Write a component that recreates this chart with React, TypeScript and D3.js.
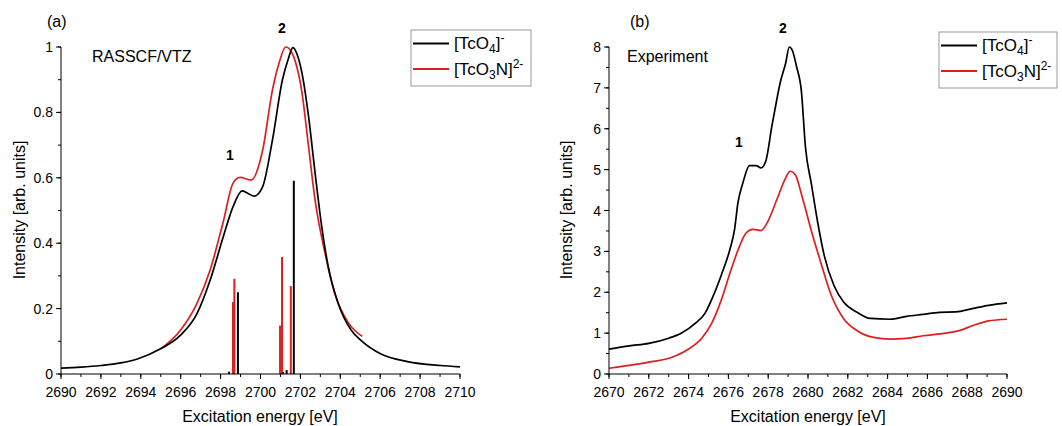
import React from "react";
import * as d3 from "d3";

// ---------- Panel (a): RASSCF/VTZ calculated spectra ----------
const aBlackE = [2690, 2691, 2692, 2693, 2693.83, 2694.99, 2695.98, 2696.81, 2697.47, 2698.13, 2698.62, 2699.08, 2699.35, 2699.69, 2700.11, 2700.6, 2701.1, 2701.4, 2701.62, 2701.85, 2702.08, 2702.41, 2702.74, 2703.07, 2703.4, 2703.9, 2704.56, 2705.05, 2706.04, 2707.36, 2709.01, 2710];
const aBlackI = [0.018, 0.021, 0.026, 0.034, 0.046, 0.077, 0.118, 0.184, 0.286, 0.419, 0.511, 0.56, 0.553, 0.544, 0.573, 0.716, 0.9, 0.965, 0.998, 0.975, 0.92, 0.787, 0.613, 0.45, 0.327, 0.215, 0.133, 0.102, 0.061, 0.038, 0.026, 0.022];
const aRedE = [2695.0, 2695.98, 2696.81, 2697.47, 2698.13, 2698.62, 2698.98, 2699.53, 2700.11, 2700.6, 2700.95, 2701.26, 2701.55, 2701.75, 2702.08, 2702.41, 2702.74, 2703.24, 2703.73, 2704.39, 2705.1];
const aRedI = [0.077, 0.133, 0.215, 0.317, 0.465, 0.583, 0.601, 0.593, 0.685, 0.869, 0.955, 1.0, 0.985, 0.955, 0.86, 0.695, 0.53, 0.368, 0.245, 0.158, 0.115];
const aBlackStickE = [2698.42, 2698.87, 2701.13, 2701.31, 2701.67];
const aBlackStickI = [0.007, 0.25, 0.006, 0.012, 0.591];
const aRedStickE = [2698.62, 2698.69, 2700.98, 2701.08, 2701.52];
const aRedStickI = [0.22, 0.291, 0.148, 0.358, 0.269];
const aXTicks = [2690, 2692, 2694, 2696, 2698, 2700, 2702, 2704, 2706, 2708, 2710];
const aYTicks = [0, 0.2, 0.4, 0.6, 0.8, 1];

// ---------- Panel (b): experiment ----------
const bBlackE = [2670, 2671.02, 2672, 2673, 2673.67, 2674.33, 2674.83, 2675.21, 2675.65, 2676.07, 2676.31, 2676.48, 2676.73, 2677.06, 2677.39, 2677.64, 2677.88, 2678.18, 2678.43, 2678.6, 2678.88, 2679.06, 2679.21, 2679.42, 2679.67, 2679.87, 2680.17, 2680.49, 2680.82, 2681.31, 2681.81, 2682.47, 2683.13, 2684.12, 2684.95, 2685.78, 2686.6, 2687.43, 2688.26, 2689.08, 2690];
const bBlackI = [0.61, 0.69, 0.75, 0.876, 1.01, 1.24, 1.49, 1.88, 2.43, 3.04, 3.54, 4.19, 4.68, 5.1, 5.1, 5.04, 5.21, 6.05, 6.71, 7.12, 7.61, 8.0, 7.92, 7.53, 6.91, 5.56, 4.65, 3.7, 2.89, 2.16, 1.75, 1.51, 1.36, 1.34, 1.41, 1.46, 1.51, 1.52, 1.6, 1.68, 1.74];
const bRedE = [2670, 2671, 2672, 2673.17, 2674.0, 2674.66, 2675.16, 2675.65, 2676.1, 2676.56, 2676.89, 2677.22, 2677.64, 2677.97, 2678.46, 2678.88, 2679.1, 2679.37, 2679.67, 2680.17, 2680.66, 2681.15, 2681.81, 2682.47, 2683.3, 2684.12, 2684.95, 2685.78, 2686.93, 2687.6, 2688.26, 2689.08, 2690];
const bRedI = [0.14, 0.21, 0.29, 0.41, 0.61, 0.876, 1.24, 1.82, 2.5, 3.13, 3.45, 3.54, 3.51, 3.72, 4.3, 4.8, 4.96, 4.87, 4.4, 3.5, 2.7, 1.95, 1.34, 1.06, 0.895, 0.854, 0.87, 0.936, 1.0, 1.06, 1.18, 1.3, 1.34];
const bXTicks = [2670, 2672, 2674, 2676, 2678, 2680, 2682, 2684, 2686, 2688, 2690];
const bYTicks = [0, 1, 2, 3, 4, 5, 6, 7, 8];

const FONT = "Arial, 'Liberation Sans', sans-serif";
const RED = "#dc1f1f";

type PanelProps = {
  x0: number; x1: number; y0: number; y1: number;
  xDomain: [number, number]; yDomain: [number, number];
  xTicks: number[]; yTicks: number[]; xMinorStep: number; yMinorStep: number;
  yFmt: (v: number) => string;
  children: (x: d3.ScaleLinear<number, number>, y: d3.ScaleLinear<number, number>) => React.ReactNode;
};

function Panel({ x0, x1, y0, y1, xDomain, yDomain, xTicks, yTicks, xMinorStep, yMinorStep, yFmt, children }: PanelProps) {
  const x = d3.scaleLinear().domain(xDomain).range([x0, x1]);
  const y = d3.scaleLinear().domain(yDomain).range([y1, y0]);
  const xMinor = d3.range(xDomain[0], xDomain[1] + 1e-9, xMinorStep);
  const yMinor = d3.range(yDomain[0], yDomain[1] + 1e-9, yMinorStep);
  return (
    <g>
      {children(x, y)}
      <line x1={x0} x2={x1} y1={y1} y2={y1} stroke="#000" strokeWidth={1} />
      <line x1={x0} x2={x0} y1={y0} y2={y1} stroke="#000" strokeWidth={1} />
      {xMinor.map((v, i) => (
        <line key={"xm" + i} x1={x(v)} x2={x(v)} y1={y1} y2={y1 + 3} stroke="#000" />
      ))}
      {xTicks.map((v) => (
        <g key={"xt" + v}>
          <line x1={x(v)} x2={x(v)} y1={y1} y2={y1 + 5} stroke="#000" />
          <text x={x(v)} y={y1 + 23} textAnchor="middle" fontSize={14} fontFamily={FONT}>{v}</text>
        </g>
      ))}
      {yMinor.map((v, i) => (
        <line key={"ym" + i} x1={x0 - 3} x2={x0} y1={y(v)} y2={y(v)} stroke="#000" />
      ))}
      {yTicks.map((v) => (
        <g key={"yt" + v}>
          <line x1={x0 - 5} x2={x0} y1={y(v)} y2={y(v)} stroke="#000" />
          <text x={x0 - 8} y={y(v) + 5} textAnchor="end" fontSize={14} fontFamily={FONT}>{yFmt(v)}</text>
        </g>
      ))}
    </g>
  );
}

function Legend({ x, y, w }: { x: number; y: number; w: number }) {
  return (
    <g fontFamily={FONT} fontSize={17}>
      <rect x={x} y={y} width={w} height={56} fill="#fff" stroke="#999" strokeWidth={1} />
      <line x1={x + 2} x2={x + 38} y1={y + 13.5} y2={y + 13.5} stroke="#000" strokeWidth={1.8} />
      <line x1={x + 2} x2={x + 38} y1={y + 39} y2={y + 39} stroke={RED} strokeWidth={1.8} />
      <text x={x + 43} y={y + 19}>
        [TcO<tspan fontSize={12} dy={4}>4</tspan><tspan dy={-4}>]</tspan><tspan fontSize={12} dy={-7}>-</tspan>
      </text>
      <text x={x + 43} y={y + 45}>
        [TcO<tspan fontSize={12} dy={4}>3</tspan><tspan dy={-4}>N]</tspan><tspan fontSize={12} dy={-7}>2-</tspan>
      </text>
    </g>
  );
}

export default function App() {
  const line = (xs: d3.ScaleLinear<number, number>, ys: d3.ScaleLinear<number, number>, E: number[], I: number[]) =>
    d3.line<number>().x((_, i) => xs(E[i])).y((v) => ys(v)).curve(d3.curveMonotoneX)(I) || "";

  return (
    <svg width={1062} height={426} style={{ position: "absolute", left: 0, top: 0, background: "#fff" }} fontFamily={FONT}>
      <rect width={1062} height={426} fill="#fff" />
      {/* Panel a */}
      <Panel x0={61} x1={460} y0={47} y1={374} xDomain={[2690, 2710]} yDomain={[0, 1]}
        xTicks={aXTicks} yTicks={aYTicks} xMinorStep={1} yMinorStep={0.1}
        yFmt={(v) => String(+v.toFixed(1))}>
        {(x, y) => (
          <g>
            {aRedStickE.map((e, i) => (
              <line key={"rs" + i} x1={x(e)} x2={x(e)} y1={y(0)} y2={y(aRedStickI[i])} stroke={RED} strokeWidth={2} />
            ))}
            {aBlackStickE.map((e, i) => (
              <line key={"bs" + i} x1={x(e)} x2={x(e)} y1={y(0)} y2={y(aBlackStickI[i])} stroke="#000" strokeWidth={2} />
            ))}
            <path d={line(x, y, aRedE, aRedI)} fill="none" stroke={RED} strokeWidth={1.7} />
            <path d={line(x, y, aBlackE, aBlackI)} fill="none" stroke="#000" strokeWidth={1.7} />
          </g>
        )}
      </Panel>
      <text x={47} y={27} fontSize={16}>(a)</text>
      <text x={92} y={62} fontSize={16}>RASSCF/VTZ</text>
      <text x={282} y={33} fontSize={14} fontWeight="bold" textAnchor="middle">2</text>
      <text x={230} y={160} fontSize={14} fontWeight="bold" textAnchor="middle">1</text>
      <text x={260} y={422} fontSize={16} textAnchor="middle">Excitation energy [eV]</text>
      <text transform="translate(25,210) rotate(-90)" fontSize={16} textAnchor="middle">Intensity [arb. units]</text>
      <Legend x={411} y={30} w={120} />

      {/* Panel b */}
      <Panel x0={609} x1={1007} y0={47} y1={374} xDomain={[2670, 2690]} yDomain={[0, 8]}
        xTicks={bXTicks} yTicks={bYTicks} xMinorStep={1} yMinorStep={0.5}
        yFmt={(v) => String(v)}>
        {(x, y) => (
          <g>
            <path d={line(x, y, bRedE, bRedI)} fill="none" stroke={RED} strokeWidth={1.7} />
            <path d={line(x, y, bBlackE, bBlackI)} fill="none" stroke="#000" strokeWidth={1.7} />
          </g>
        )}
      </Panel>
      <text x={630} y={27} fontSize={16}>(b)</text>
      <text x={627} y={62} fontSize={16}>Experiment</text>
      <text x={783} y={33} fontSize={14} fontWeight="bold" textAnchor="middle">2</text>
      <text x={739} y={147} fontSize={14} fontWeight="bold" textAnchor="middle">1</text>
      <text x={808} y={422} fontSize={16} textAnchor="middle">Excitation energy [eV]</text>
      <text transform="translate(572,210) rotate(-90)" fontSize={16} textAnchor="middle">Intensity [arb. units]</text>
      <Legend x={939} y={32} w={118} />
    </svg>
  );
}
